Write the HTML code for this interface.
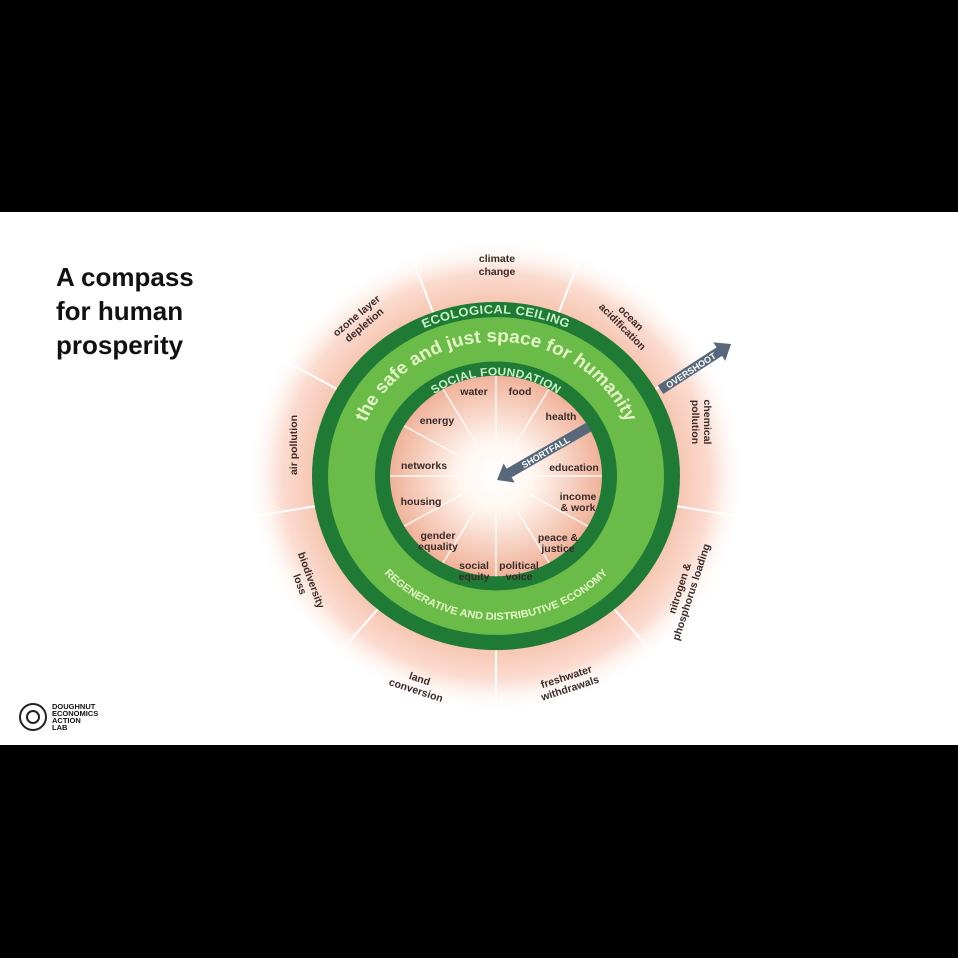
<!DOCTYPE html>
<html><head><meta charset="utf-8"><style>
body{margin:0;width:958px;height:958px;background:#000;overflow:hidden;font-family:"Liberation Sans",sans-serif}
.w{position:absolute;left:0;top:212px;width:958px;height:533px;background:#fff}
.t{position:absolute;left:56px;top:260px;font-weight:bold;font-size:26px;line-height:34px;color:#111}
</style></head><body>
<div class="w"></div>
<div class="t">A compass<br>for human<br>prosperity</div>
<svg width="958" height="958" style="position:absolute;left:0;top:0" font-family="Liberation Sans, sans-serif">
<defs>
<radialGradient id="halo" cx="0" cy="0" r="250" gradientUnits="userSpaceOnUse">
<stop offset="0.72" stop-color="#f6c4b0"/><stop offset="0.86" stop-color="#fbdcd0"/><stop offset="1" stop-color="#fff" stop-opacity="0"/></radialGradient>
<radialGradient id="core" cx="0" cy="0" r="106" gradientUnits="userSpaceOnUse">
<stop offset="0" stop-color="#fff"/><stop offset="0.35" stop-color="#fff6f0"/><stop offset="1" stop-color="#f0b29a"/></radialGradient>
<path id="pEc" d="M-176,0 A176 176 0 0 1 176,0"/>
<path id="pSafe" d="M-142,0 A142 142 0 0 1 142,0"/>
<path id="pSoc" d="M-110,0 A110 110 0 0 1 110,0"/>
<path id="pReg" d="M-152,0 A152 152 0 0 0 152,0"/>
</defs>
<g transform="translate(496,476) scale(1,0.946)">
<circle r="250" fill="url(#halo)"/>
<g stroke="#fff" stroke-width="2">
<line x1="0" y1="0" x2="0" y2="250" transform="rotate(0)"/>
<line x1="0" y1="0" x2="0" y2="250" transform="rotate(40)"/>
<line x1="0" y1="0" x2="0" y2="250" transform="rotate(80)"/>
<line x1="0" y1="0" x2="0" y2="250" transform="rotate(120)"/>
<line x1="0" y1="0" x2="0" y2="250" transform="rotate(160)"/>
<line x1="0" y1="0" x2="0" y2="250" transform="rotate(200)"/>
<line x1="0" y1="0" x2="0" y2="250" transform="rotate(240)"/>
<line x1="0" y1="0" x2="0" y2="250" transform="rotate(280)"/>
<line x1="0" y1="0" x2="0" y2="250" transform="rotate(320)"/>
</g>
<circle r="184" fill="#1f7a35"/>
<circle r="168" fill="#6bbb48"/>
<circle r="121" fill="#1f7a35"/>
<circle r="106" fill="url(#core)"/>
<g stroke="#fff" stroke-width="1.5" opacity="0.9">
<line x1="0" y1="-40" x2="0" y2="-106"/><line x1="0" y1="40" x2="0" y2="106"/>
<line x1="-40" y1="0" x2="-106" y2="0"/><line x1="40" y1="0" x2="106" y2="0"/>
<g transform="rotate(30)"><line x1="0" y1="-40" x2="0" y2="-106"/><line x1="0" y1="40" x2="0" y2="106"/><line x1="-40" y1="0" x2="-106" y2="0"/><line x1="40" y1="0" x2="106" y2="0"/></g>
<g transform="rotate(60)"><line x1="0" y1="-40" x2="0" y2="-106"/><line x1="0" y1="40" x2="0" y2="106"/><line x1="-40" y1="0" x2="-106" y2="0"/><line x1="40" y1="0" x2="106" y2="0"/></g>
</g>
<text font-size="13" font-weight="bold" fill="#c8f0c8" letter-spacing="0.5"><textPath href="#pEc" startOffset="50%" text-anchor="middle" dominant-baseline="central">ECOLOGICAL CEILING</textPath></text>
<text font-size="19" font-weight="bold" fill="#e4f6c8"><textPath href="#pSafe" startOffset="50%" text-anchor="middle">the safe and just space for humanity</textPath></text>
<text font-size="12" font-weight="bold" fill="#c8f0c8" letter-spacing="0.5"><textPath href="#pSoc" startOffset="50%" text-anchor="middle" dominant-baseline="central">SOCIAL FOUNDATION</textPath></text>
<text font-size="11" font-weight="bold" fill="#e4f6c8"><textPath href="#pReg" startOffset="50%" text-anchor="middle">REGENERATIVE AND DISTRIBUTIVE ECONOMY</textPath></text>
</g>
<g fill="#56687a">
<g transform="translate(731,344) rotate(-33)">
<polygon points="0,0 -14,-11 -14,-5 -84,-5 -84,5 -14,5 -14,11"/>
<text x="-48" y="3.5" font-size="9" font-weight="bold" fill="#fff" text-anchor="middle">OVERSHOOT</text>
</g>
<g transform="translate(497,480) rotate(-30)">
<polygon points="0,0 14,-11 14,-5 106,-5 106,5 14,5 14,11"/>
<text x="56" y="3.5" font-size="9" font-weight="bold" fill="#fff" text-anchor="middle">SHORTFALL</text>
</g>
</g>
<g font-size="10.5" font-weight="bold" fill="#3a2a2a" text-anchor="middle">
<text x="474" y="395">water</text><text x="520" y="395">food</text>
<text x="437" y="424">energy</text><text x="561" y="420">health</text>
<text x="424" y="469">networks</text><text x="574" y="471">education</text>
<text x="421" y="505">housing</text><text x="578" y="500">income</text><text x="578" y="511">&amp; work</text>
<text x="438" y="539">gender</text><text x="438" y="550">equality</text>
<text x="558" y="541">peace &amp;</text><text x="558" y="552">justice</text>
<text x="474" y="569">social</text><text x="474" y="580">equity</text>
<text x="519" y="569">political</text><text x="519" y="580">voice</text>
</g>
<g font-size="10.5" font-weight="bold" fill="#3a2a2a" text-anchor="middle">
<text x="497" y="262">climate</text><text x="497" y="275">change</text>
<g transform="translate(360,320) rotate(-40)"><text y="-2">ozone layer</text><text y="10">depletion</text></g>
<g transform="translate(627,322) rotate(45)"><text y="-2">ocean</text><text y="10">acidification</text></g>
<g transform="translate(293,445) rotate(-90)"><text y="4">air pollution</text></g>
<g transform="translate(702,422) rotate(90)"><text y="-2">chemical</text><text y="10">pollution</text></g>
<g transform="translate(306,582) rotate(70)"><text y="-2">biodiversity</text><text y="10">loss</text></g>
<g transform="translate(685,590) rotate(-72)"><text y="-2">nitrogen &amp;</text><text y="10">phosphorus loading</text></g>
<g transform="translate(418,684) rotate(18)"><text y="-2">land</text><text y="10">conversion</text></g>
<g transform="translate(568,682) rotate(-18)"><text y="-2">freshwater</text><text y="10">withdrawals</text></g>
</g>
<circle cx="33" cy="717" r="13" fill="none" stroke="#222" stroke-width="2"/>
<circle cx="33" cy="717" r="6" fill="none" stroke="#222" stroke-width="2"/>
<g font-size="7.5" font-weight="bold" fill="#111"><text x="52" y="709">DOUGHNUT</text><text x="52" y="716">ECONOMICS</text><text x="52" y="723">ACTION</text><text x="52" y="730">LAB</text></g>
</svg>
</body></html>
